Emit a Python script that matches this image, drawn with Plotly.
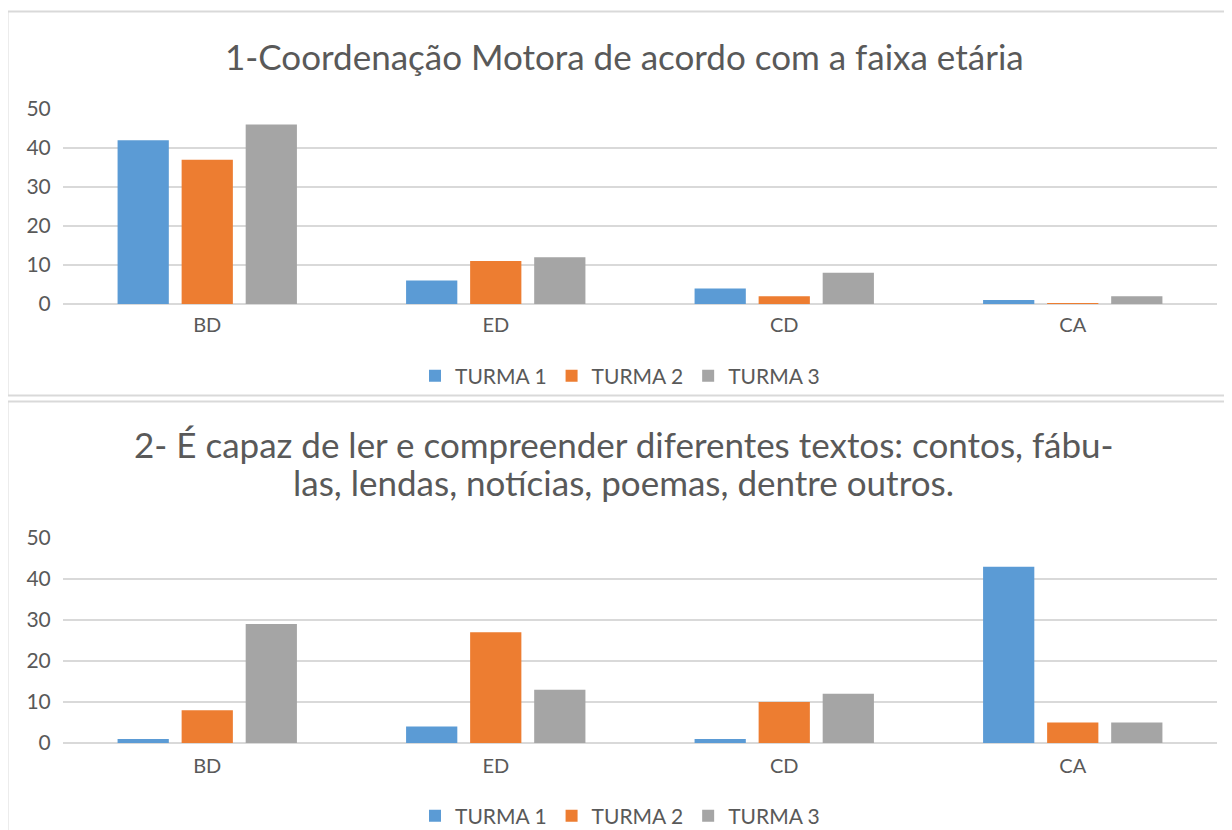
import plotly.graph_objects as go

# page body has an 8px margin, so the figure is drawn 8px in from the window's top-left
OFF = 8
W, H = 1232 - OFF, 830

categories = ["BD", "ED", "CD", "CA"]
series_names = ["TURMA 1", "TURMA 2", "TURMA 3"]
colors = ["#5B9BD5", "#ED7D31", "#A5A5A5"]

chart1_turma1 = [42, 6, 4, 1]
chart1_turma2 = [37, 11, 2, 0.2]
chart1_turma3 = [46, 12, 8, 2]

chart2_turma1 = [1, 4, 1, 43]
chart2_turma2 = [8, 27, 10, 5]
chart2_turma3 = [29, 13, 12, 5]

title1 = "1-Coordenação Motora de acordo com a faixa etária"
title2_line1 = "2- É capaz de ler e compreender diferentes textos: contos, fábu-"
title2_line2 = "las, lendas, notícias, poemas, dentre outros."
y_ticks = [0, 10, 20, 30, 40, 50]

FONT = "Lato, Carlito, 'Open Sans', sans-serif"
TXT = "#595959"
GRID = "#D9D9D9"

def px(p):
    return (p - OFF) / W

def py(p):
    return 1 - (p - OFF) / H

fig = go.Figure()
for vals, name, col in zip([chart1_turma1, chart1_turma2, chart1_turma3], series_names, colors):
    fig.add_trace(go.Bar(x=categories, y=vals, name=name, marker=dict(color=col, line=dict(width=0)),
                         xaxis="x", yaxis="y", legend="legend"))
for vals, name, col in zip([chart2_turma1, chart2_turma2, chart2_turma3], series_names, colors):
    fig.add_trace(go.Bar(x=categories, y=vals, name=name, marker=dict(color=col, line=dict(width=0)),
                         xaxis="x2", yaxis="y2", legend="legend2"))

xdom = [px(63), px(1217)]
common_x = dict(showgrid=False, showline=False, ticks="outside", tickcolor="rgba(0,0,0,0)",
                tickfont=dict(family=FONT, size=20, color=TXT), fixedrange=True, automargin=False)
common_y = dict(range=[0, 50], tickvals=y_ticks, showgrid=True, gridcolor=GRID, gridwidth=2,
                zeroline=True, zerolinecolor=GRID, zerolinewidth=2, showline=False,
                ticks="outside", ticklen=7, tickcolor="rgba(0,0,0,0)", automargin=False,
                tickfont=dict(family=FONT, size=21, color=TXT))

title_font = dict(family=FONT, size=35, color=TXT)

fig.update_layout(
    width=W, height=H, margin=dict(l=0, r=0, t=0, b=0),
    paper_bgcolor="white", plot_bgcolor="white",
    barmode="group", bargap=0.334, bargroupgap=0.2,
    xaxis=dict(domain=xdom, anchor="y", ticklen=3, **common_x),
    yaxis=dict(domain=[py(304), py(109)], anchor="x", **common_y),
    xaxis2=dict(domain=xdom, anchor="y2", ticklen=5, **common_x),
    yaxis2=dict(domain=[py(743), py(538)], anchor="x2", **common_y),
    legend=dict(orientation="h", x=0.5, xanchor="center", y=py(376), yanchor="middle",
                font=dict(family=FONT, size=21, color=TXT), itemwidth=30, bgcolor="rgba(0,0,0,0)"),
    legend2=dict(orientation="h", x=0.5, xanchor="center", y=py(816), yanchor="middle",
                 font=dict(family=FONT, size=21, color=TXT), itemwidth=30, bgcolor="rgba(0,0,0,0)"),
    annotations=[
        dict(text=title1, x=px(624), y=py(56.5), xref="paper", yref="paper", xanchor="center", yanchor="middle",
             showarrow=False, font=title_font),
        dict(text=title2_line1, x=px(624), y=py(444), xref="paper", yref="paper", xanchor="center",
             yanchor="middle", showarrow=False, font=title_font),
        dict(text=title2_line2, x=px(623), y=py(481.5), xref="paper", yref="paper", xanchor="center",
             yanchor="middle", showarrow=False, font=title_font),
    ],
    shapes=[
        dict(type="rect", xref="paper", yref="paper", x0=px(7.5), x1=1.01, y0=py(395.5), y1=py(11.5),
             line=dict(color="#D9D9D9", width=2), fillcolor="rgba(0,0,0,0)"),
        dict(type="rect", xref="paper", yref="paper", x0=px(7.5), x1=1.01, y0=-0.05, y1=py(401.5),
             line=dict(color="#D9D9D9", width=2), fillcolor="rgba(0,0,0,0)"),
    ],
    showlegend=True,
)

fig.write_html("out.html")
